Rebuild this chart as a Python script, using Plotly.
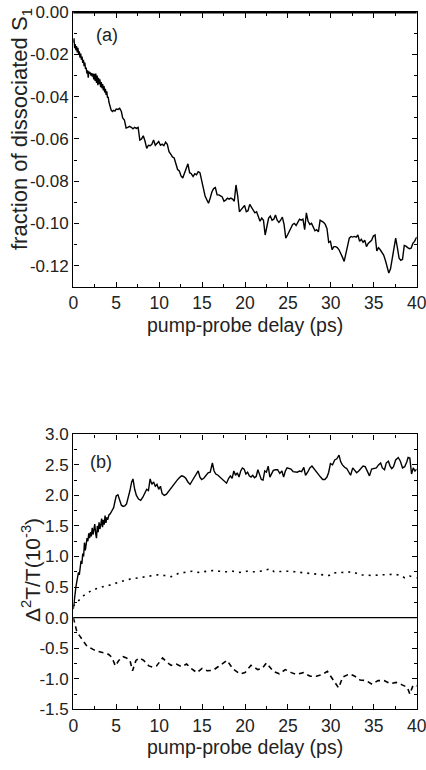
import plotly.graph_objects as go

# ---------------- data: panel (a) ----------------
a_x = [0.00, 0.08, 0.15, 0.22, 0.30, 0.38, 0.46, 0.54, 0.62, 0.70, 0.78, 0.86, 0.94, 1.02, 1.10, 1.18,
       1.26, 1.34, 1.42, 1.50, 1.58, 1.66, 1.74, 1.82, 1.90, 1.98, 2.06, 2.14, 2.22, 2.30, 2.38, 2.46,
       2.54, 2.62, 2.70, 2.78, 2.86, 2.94, 3.02, 3.10, 3.18, 3.26, 3.34, 3.42, 3.50, 3.58, 3.66, 3.74,
       3.82, 3.90, 3.98, 4.06, 4.15, 4.25, 4.40, 4.55, 4.70, 4.85, 5.00, 5.20, 5.40, 5.60, 5.75, 5.95,
       6.15, 6.35, 6.55, 6.75, 6.95, 7.15, 7.35, 7.55, 7.75, 7.95, 8.15, 8.35, 8.55, 8.75, 8.95, 9.15,
       9.35, 9.55, 9.75, 9.95, 10.15, 10.35, 10.55, 10.75, 10.95, 11.15, 11.35, 11.55, 11.75, 11.95,
       12.15, 12.35, 12.55, 12.75, 12.95, 13.15, 13.35, 13.55, 13.75, 13.95, 14.15, 14.35, 14.55,
       14.75, 14.95, 15.15, 15.35, 15.55, 15.75, 15.95, 16.15, 16.35, 16.55, 16.75, 16.95, 17.15,
       17.35, 17.55, 17.75, 17.95, 18.15, 18.35, 18.55, 18.75, 18.95, 19.15, 19.35, 19.55, 19.75,
       19.95, 20.15, 20.35, 20.55, 20.75, 20.95, 21.15, 21.35, 21.55, 21.75, 21.95, 22.15, 22.35,
       22.55, 22.75, 22.95, 23.15, 23.35, 23.55, 23.75, 23.95, 24.15, 24.35, 24.55, 24.75, 24.95,
       25.15, 25.35, 25.55, 25.75, 25.95, 26.15, 26.35, 26.55, 26.75, 26.95, 27.15, 27.35, 27.55,
       27.75, 27.95, 28.15, 28.35, 28.55, 28.75, 28.95, 29.15, 29.35, 29.55, 29.75, 29.95, 30.15,
       30.35, 30.55, 30.75, 30.95, 31.15, 31.35, 31.55, 31.75, 31.95, 32.15, 32.35, 32.55, 32.75,
       32.95, 33.15, 33.35, 33.55, 33.75, 33.95, 34.15, 34.35, 34.55, 34.75, 34.95, 35.15, 35.35,
       35.55, 35.75, 35.95, 36.15, 36.35, 36.55, 36.75, 36.95, 37.15, 37.35, 37.55, 37.75, 37.95,
       38.15, 38.35, 38.55, 38.75, 38.95, 39.15, 39.35, 39.55, 39.75, 40.00]
a_y = [-0.0145, -0.0123, -0.0170, -0.0150, -0.0180, -0.0160, -0.0190, -0.0168, -0.0200, -0.0185,
       -0.0215, -0.0195, -0.0225, -0.0210, -0.0240, -0.0225, -0.0255, -0.0238, -0.0268, -0.0262,
       -0.0290, -0.0275, -0.0310, -0.0280, -0.0290, -0.0285, -0.0300, -0.0288, -0.0305, -0.0290,
       -0.0318, -0.0292, -0.0325, -0.0290, -0.0335, -0.0300, -0.0345, -0.0310, -0.0340, -0.0318,
       -0.0355, -0.0330, -0.0360, -0.0340, -0.0370, -0.0350, -0.0380, -0.0362, -0.0392, -0.0375,
       -0.0405, -0.0400, -0.0425, -0.0445, -0.0462, -0.0470, -0.0465, -0.0468, -0.0458, -0.0460,
       -0.0455, -0.0470, -0.0500, -0.0510, -0.0548, -0.0545, -0.0540, -0.0545, -0.0552, -0.0545,
       -0.0550, -0.0545, -0.0605, -0.0600, -0.0585, -0.0610, -0.0645, -0.0630, -0.0632, -0.0625,
       -0.0605, -0.0630, -0.0620, -0.0612, -0.0630, -0.0625, -0.0632, -0.0615, -0.0625, -0.0660,
       -0.0672, -0.0685, -0.0690, -0.0725, -0.0745, -0.0752, -0.0775, -0.0785, -0.0760, -0.0740,
       -0.0718, -0.0760, -0.0765, -0.0778, -0.0765, -0.0770, -0.0755, -0.0760, -0.0800, -0.0845,
       -0.0870, -0.0888, -0.0905, -0.0880, -0.0850, -0.0835, -0.0830, -0.0865, -0.0865, -0.0870,
       -0.0875, -0.0895, -0.0890, -0.0880, -0.0885, -0.0880, -0.0885, -0.0895, -0.0818, -0.0870,
       -0.0945, -0.0935, -0.0925, -0.0915, -0.0945, -0.0940, -0.0910, -0.0925, -0.0935, -0.0950,
       -0.0945, -0.0965, -0.0990, -0.0975, -0.0985, -0.1055, -0.1010, -0.0975, -0.0965, -0.0985,
       -0.0980, -0.0960, -0.0985, -0.0995, -0.0985, -0.0970, -0.1005, -0.1070, -0.1055, -0.1040,
       -0.1025, -0.1005, -0.1000, -0.1010, -0.0995, -0.0980, -0.0985, -0.0980, -0.1030, -0.0950,
       -0.0990, -0.1005, -0.1000, -0.1015, -0.1035, -0.1030, -0.1040, -0.0985, -0.0990, -0.0995,
       -0.1005, -0.1025, -0.1090, -0.1085, -0.1125, -0.1110, -0.1110, -0.1115, -0.1125, -0.1140,
       -0.1160, -0.1180, -0.1145, -0.1105, -0.1070, -0.1062, -0.1065, -0.1062, -0.1065, -0.1055,
       -0.1085, -0.1075, -0.1090, -0.1080, -0.1110, -0.1095, -0.1085, -0.1080, -0.1060, -0.1055,
       -0.1130, -0.1115, -0.1125, -0.1140, -0.1150, -0.1175, -0.1200, -0.1235, -0.1215, -0.1165,
       -0.1110, -0.1070, -0.1115, -0.1165, -0.1175, -0.1170, -0.1105, -0.1108, -0.1115, -0.1120,
       -0.1118, -0.1095, -0.1085, -0.1065]

# ---------------- data: panel (b) ----------------
b_solid_x = [0.00, 0.10, 0.20, 0.30, 0.40, 0.50, 0.60, 0.70, 0.80, 0.90, 1.00, 1.10, 1.20, 1.30, 1.40,
             1.50, 1.60, 1.70, 1.80, 1.90, 2.00, 2.10, 2.20, 2.30, 2.40, 2.50, 2.60, 2.70, 2.80, 2.90,
             3.00, 3.10, 3.20, 3.30, 3.40, 3.50, 3.60, 3.70, 3.80, 3.90, 4.00, 4.15, 4.30, 4.50, 4.70,
             4.85, 5.00, 5.20, 5.40, 5.60, 5.80, 6.00, 6.20, 6.40, 6.60, 6.80, 6.95, 7.15, 7.35, 7.60,
             7.85, 8.10, 8.35, 8.55, 8.75, 8.95, 9.15, 9.35, 9.55, 9.75, 9.95, 10.15, 10.35, 10.60,
             10.85, 11.10, 11.35, 11.60, 11.85, 12.10, 12.35, 12.60, 12.85, 13.10, 13.35, 13.60, 13.85,
             14.10, 14.35, 14.55, 14.75, 14.95, 15.20, 15.45, 15.70, 15.95, 16.20, 16.40, 16.60, 16.85,
             17.10, 17.35, 17.60, 17.85, 18.10, 18.30, 18.50, 18.70, 18.90, 19.10, 19.30, 19.50, 19.70,
             19.90, 20.10, 20.30, 20.50, 20.70, 20.90, 21.10, 21.30, 21.50, 21.70, 21.90, 22.10, 22.30,
             22.50, 22.70, 22.90, 23.10, 23.30, 23.55, 23.80, 24.05, 24.30, 24.50, 24.70, 24.90, 25.10,
             25.35, 25.60, 25.85, 26.10, 26.35, 26.60, 26.85, 27.05, 27.30, 27.55, 27.80, 28.05, 28.30,
             28.55, 28.80, 29.05, 29.30, 29.55, 29.75, 29.95, 30.20, 30.45, 30.70, 30.95, 31.15, 31.35,
             31.60, 31.85, 32.05, 32.30, 32.55, 32.75, 33.00, 33.25, 33.50, 33.75, 34.00, 34.25, 34.50,
             34.75, 35.00, 35.30, 35.55, 35.80, 36.00, 36.25, 36.45, 36.70, 36.90, 37.10, 37.30, 37.55,
             37.85, 38.10, 38.35, 38.60, 38.85, 39.00, 39.20, 39.40, 39.60, 39.80, 40.00]
b_solid_y = [0.14, 0.30, 0.42, 0.50, 0.58, 0.66, 0.74, 0.70, 0.84, 0.93, 0.88, 1.05, 1.00, 1.23, 1.10,
             1.18, 1.30, 1.25, 1.38, 1.30, 1.40, 1.33, 1.47, 1.36, 1.42, 1.53, 1.38, 1.30, 1.50, 1.40,
             1.56, 1.45, 1.52, 1.62, 1.48, 1.60, 1.52, 1.67, 1.55, 1.64, 1.60, 1.68, 1.70, 1.74, 1.80,
             1.90, 1.99, 2.01, 1.92, 1.84, 1.82, 1.83, 1.86, 1.95, 2.08, 2.22, 2.27, 2.10, 2.00, 1.94,
             1.92, 1.97, 2.05, 2.10, 2.08, 2.27, 2.18, 2.22, 2.15, 2.18, 2.10, 2.15, 2.03, 2.00,
             2.02, 2.07, 2.12, 2.16, 2.20, 2.25, 2.29, 2.32, 2.31, 2.28, 2.22, 2.18, 2.24,
             2.30, 2.36, 2.40, 2.30, 2.26, 2.28, 2.33, 2.37, 2.38, 2.53, 2.40, 2.35, 2.33,
             2.30, 2.27, 2.23, 2.20, 2.28, 2.32, 2.28, 2.40, 2.33, 2.37, 2.30, 2.40, 2.45,
             2.43, 2.35, 2.38, 2.32, 2.30, 2.33, 2.29, 2.31, 2.42, 2.34, 2.26, 2.25, 2.40,
             2.38, 2.48, 2.30, 2.36, 2.41, 2.42, 2.42, 2.36, 2.40, 2.30, 2.40, 2.45, 2.44,
             2.43, 2.39, 2.38, 2.38, 2.40, 2.39, 2.46, 2.33, 2.38, 2.45, 2.48, 2.43, 2.38,
             2.34, 2.30, 2.26, 2.26, 2.30, 2.38, 2.52, 2.50, 2.58, 2.60, 2.66, 2.55, 2.50,
             2.46, 2.44, 2.40, 2.33, 2.45, 2.42, 2.37, 2.40, 2.45, 2.48, 2.47, 2.40, 2.32,
             2.43, 2.44, 2.45, 2.50, 2.53, 2.45, 2.42, 2.53, 2.56, 2.48, 2.44, 2.47, 2.58,
             2.62, 2.56, 2.45, 2.47, 2.55, 2.62, 2.61, 2.35, 2.45, 2.40, 2.43]

b_dot_x = [0.0, 0.2, 0.4, 0.6, 0.8, 1.0, 1.2, 1.4, 1.6, 1.8, 2.0, 2.3, 2.6, 3.0, 3.4, 3.8, 4.2, 5.0,
           5.8, 6.6, 7.4, 8.2, 9.0, 9.8, 10.6, 11.4, 12.2, 13.0, 13.8, 14.6, 15.4, 16.2, 17.0, 17.8,
           18.6, 19.4, 20.2, 21.0, 21.8, 22.6, 23.0, 23.4, 24.2, 25.0, 25.8, 26.6, 27.4, 28.2, 29.0,
           29.8, 30.2, 31.0, 31.8, 32.6, 33.4, 34.2, 35.0, 35.8, 36.6, 37.4, 38.2, 38.6, 39.2, 40.0]
b_dot_y = [0.19, 0.22, 0.25, 0.28, 0.30, 0.33, 0.36, 0.38, 0.40, 0.42, 0.44, 0.46, 0.47, 0.49, 0.51,
           0.52, 0.53, 0.57, 0.60, 0.63, 0.65, 0.67, 0.69, 0.70, 0.69, 0.67, 0.72, 0.74, 0.76, 0.74,
           0.75, 0.77, 0.76, 0.75, 0.76, 0.74, 0.76, 0.75, 0.76, 0.78, 0.80, 0.75, 0.76, 0.76, 0.75,
           0.74, 0.73, 0.72, 0.71, 0.69, 0.73, 0.74, 0.74, 0.75, 0.70, 0.69, 0.69, 0.70, 0.71, 0.71,
           0.69, 0.65, 0.68, 0.65]

b_dash_x = [0.0, 0.2, 0.4, 0.6, 0.8, 1.0, 1.2, 1.4, 1.6, 1.8, 2.0, 2.3, 2.6, 2.9, 3.2, 3.5, 3.8, 4.1,
            4.5, 4.9, 5.3, 5.8, 6.2, 6.6, 6.9, 7.3, 7.7, 8.2, 8.8, 9.2, 9.7, 10.4, 10.9, 11.4, 12.0,
            12.6, 13.2, 13.8, 14.4, 15.0, 15.6, 16.3, 16.9, 17.9, 18.6, 19.4, 20.0, 20.7, 21.5, 22.0,
            22.5, 23.3, 24.0, 24.7, 25.4, 26.0, 26.8, 27.6, 28.3, 29.0, 29.6, 30.2, 30.9, 31.4, 32.2,
            32.8, 33.4, 34.1, 34.8, 35.5, 36.2, 36.9, 37.6, 38.3, 38.9, 39.2, 39.6, 40.0]
b_dash_y = [0.00, -0.14, -0.22, -0.27, -0.31, -0.36, -0.41, -0.45, -0.47, -0.48, -0.50, -0.52, -0.54,
            -0.55, -0.57, -0.57, -0.59, -0.60, -0.65, -0.79, -0.70, -0.64, -0.66, -0.70, -0.87, -0.70,
            -0.66, -0.70, -0.79, -0.81, -0.79, -0.66, -0.73, -0.78, -0.76, -0.80, -0.76, -0.84, -0.90,
            -0.83, -0.87, -0.86, -0.80, -0.70, -0.84, -0.92, -0.90, -0.78, -0.85, -0.83, -0.74, -0.88,
            -0.92, -0.85, -0.90, -0.93, -0.90, -0.96, -0.96, -0.93, -0.88, -1.00, -1.15, -0.97, -0.92,
            -0.96, -1.02, -1.03, -1.09, -1.03, -1.03, -1.08, -1.06, -1.10, -1.14, -1.25, -1.10, -1.12]

x_tickvals = [0, 5, 10, 15, 20, 25, 30, 35, 40]
x_ticktext = ["0", "5", "10", "15", "20", "25", "30", "35", "40"]
a_tickvals = [0.0, -0.02, -0.04, -0.06, -0.08, -0.10, -0.12]
a_ticktext = ["0.00", "-0.02", "-0.04", "-0.06", "-0.08", "-0.10", "-0.12"]
b_tickvals = [3.0, 2.5, 2.0, 1.5, 1.0, 0.5, 0.0, -0.5, -1.0, -1.5]
b_ticktext = ["3.0", "2.5", "2.0", "1.5", "1.0", "0.5", "0.0", "-0.5", "-1.0", "-1.5"]

FONT = "Liberation Sans, Arial, sans-serif"
W, H = 426, 770
TXT = "#222222"
line_style = dict(color="black", width=1.4)

fig = go.Figure()
fig.add_trace(go.Scatter(x=a_x, y=a_y, mode="lines", line=line_style, xaxis="x", yaxis="y", showlegend=False))
fig.add_trace(go.Scatter(x=b_solid_x, y=b_solid_y, mode="lines", line=line_style, xaxis="x2", yaxis="y2", showlegend=False))
fig.add_trace(go.Scatter(x=b_dot_x, y=b_dot_y, mode="lines", line=dict(color="black", width=1.6, dash="2px,5px"),
                         xaxis="x2", yaxis="y2", showlegend=False))
fig.add_trace(go.Scatter(x=b_dash_x, y=b_dash_y, mode="lines", line=dict(color="black", width=1.6, dash="5px,4px"),
                         xaxis="x2", yaxis="y2", showlegend=False))

xdom = [73.3 / W, 416.7 / W]
top_dom = [1 - 286.7 / H, 1 - 12.3 / H]
bot_dom = [1 - 709.3 / H, 1 - 434.3 / H]

axis_common = dict(showline=True, linecolor="black", linewidth=1.4, mirror="ticks", ticks="inside",
                   ticklen=5, tickwidth=1.2, tickcolor="black", showgrid=False, zeroline=False,
                   automargin=False, ticklabeloverflow="allow")
xcommon = dict(axis_common, range=[0, 40], tickvals=x_tickvals, ticktext=x_ticktext,
               tickfont=dict(family=FONT, size=17.5, color=TXT),
               minor=dict(dtick=2.5, tick0=0, ticks="inside", ticklen=3, tickwidth=1.1, tickcolor="black"))

fig.update_layout(
    width=W, height=H, template="none",
    paper_bgcolor="white", plot_bgcolor="white",
    margin=dict(l=0, r=0, t=0, b=0),
    font=dict(family=FONT, color=TXT),
    xaxis=dict(xcommon, domain=xdom, anchor="y"),
    yaxis=dict(axis_common, domain=top_dom, anchor="x", range=[-0.13, 0.0],
               tickvals=a_tickvals, ticktext=a_ticktext,
               tickfont=dict(family=FONT, size=17, color=TXT),
               minor=dict(dtick=0.01, tick0=0, ticks="inside", ticklen=3, tickwidth=1.1, tickcolor="black")),
    xaxis2=dict(xcommon, domain=xdom, anchor="y2"),
    yaxis2=dict(axis_common, domain=bot_dom, anchor="x2", range=[-1.5, 3.0],
                tickvals=b_tickvals, ticktext=b_ticktext,
                tickfont=dict(family=FONT, size=17, color=TXT),
                minor=dict(dtick=0.25, tick0=0, ticks="inside", ticklen=3, tickwidth=1.1, tickcolor="black")),
)

# thick top edge of panel (a) and zero line of panel (b)
fig.add_shape(type="line", xref="x domain", yref="y domain", x0=0, x1=1, y0=1, y1=1,
              line=dict(color="black", width=2.6))
fig.add_shape(type="line", xref="x2 domain", yref="y2", x0=0, x1=1, y0=0, y1=0,
              line=dict(color="black", width=1.4))

ann = []
ann.append(dict(text="fraction of dissociated S<sub>1</sub>", textangle=-90, x=21 / W, y=1 - 252 / H,
                xanchor="center", yanchor="bottom", font=dict(size=22)))
ann.append(dict(text="\u0394<sup>2</sup>T/T(10<sup>-3</sup>)", textangle=-90, x=31 / W, y=1 - 570 / H,
                xanchor="center", yanchor="middle", font=dict(size=21)))
ann.append(dict(text="pump-probe delay (ps)", x=245 / W, y=1 - 325 / H, xanchor="center", yanchor="middle",
                font=dict(size=19.5)))
ann.append(dict(text="pump-probe delay (ps)", x=245 / W, y=1 - 747 / H, xanchor="center", yanchor="middle",
                font=dict(size=19.5)))
ann.append(dict(text="(a)", x=107 / W, y=1 - 35 / H, xanchor="center", yanchor="middle", font=dict(size=18)))
ann.append(dict(text="(b)", x=101 / W, y=1 - 462 / H, xanchor="center", yanchor="middle", font=dict(size=18)))
for a in ann:
    a.update(xref="paper", yref="paper", showarrow=False)
    a["font"].update(family=FONT, color=TXT)
fig.update_layout(annotations=ann)

fig.write_html("out.html", config={"displayModeBar": False},
               post_script="document.body.style.margin='0px';document.body.style.overflow='hidden';")
